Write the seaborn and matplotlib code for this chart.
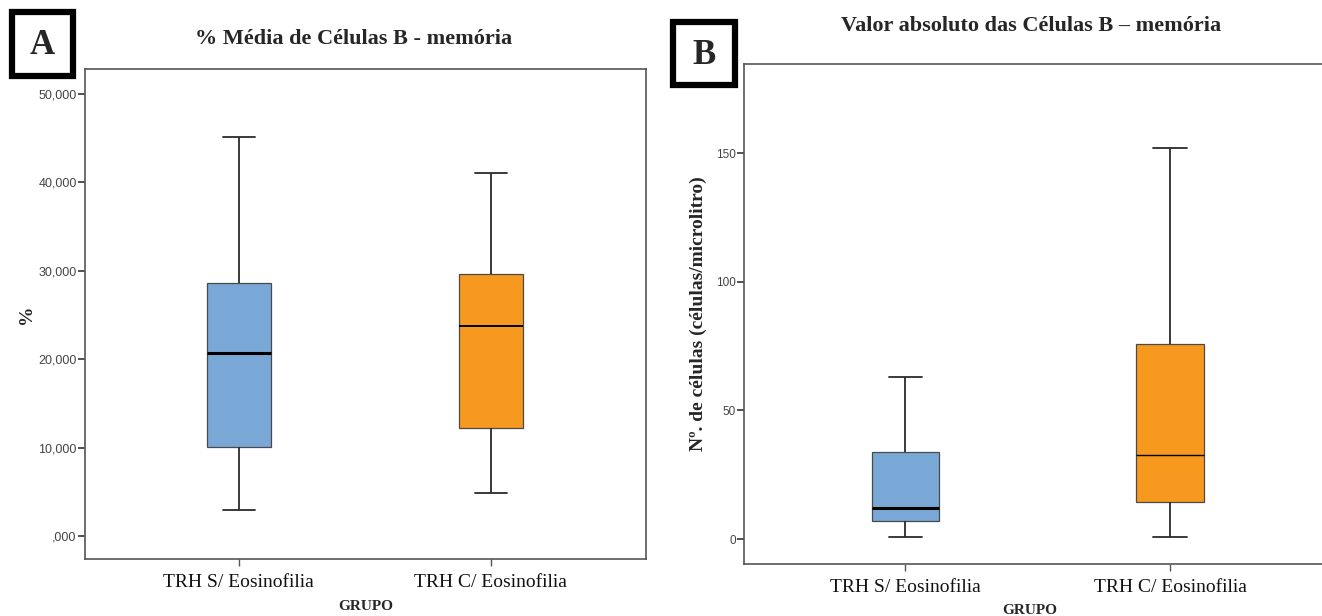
import pandas as pd
import seaborn as sns
import matplotlib.pyplot as plt
from matplotlib.patches import Rectangle

# groups and colours
groups = ["TRH S/ Eosinofilia", "TRH C/ Eosinofilia"]
colors = ["#79A8D6", "#F7991E"]

# five-number summaries: min, Q1, median, Q3, max
pct_s_eos = [3.0, 10.1, 20.7, 28.6, 45.1]
pct_c_eos = [4.9, 12.2, 23.8, 29.6, 41.0]
abs_s_eos = [0.8, 7.0, 12.0, 33.8, 63.0]
abs_c_eos = [0.8, 14.4, 32.6, 75.8, 152.0]

pct_ticks = [0, 10, 20, 30, 40, 50]
pct_tick_labels = [",000", "10,000", "20,000", "30,000", "40,000", "50,000"]
abs_ticks = [0, 50, 100, 150]
abs_tick_labels = ["0", "50", "100", "150"]

sns.set_theme(style="white")
serif = ["Liberation Serif", "DejaVu Serif"]
sans = ["Liberation Sans", "DejaVu Sans"]
plt.rcParams["font.family"] = sans


def make_frame(a, b):
    return pd.DataFrame({
        "grupo": [groups[0]] * len(a) + [groups[1]] * len(b),
        "valor": a + b,
    })


def draw_panel(ax, df, median_widths):
    for g, c, mw in zip(groups, colors, median_widths):
        sns.boxplot(
            data=df[df["grupo"] == g], x="grupo", y="valor", order=groups,
            color=c, whis=(0, 100), width=0.254, saturation=1, ax=ax,
            boxprops=dict(edgecolor="#4a4a4a", linewidth=0.9),
            whiskerprops=dict(color="#2b2b2b", linewidth=1.3),
            capprops=dict(color="#2b2b2b", linewidth=1.3),
            medianprops=dict(color="black", linewidth=mw),
        )
    ax.set_xticks([0, 1], labels=groups)
    for lab in ax.get_xticklabels():
        lab.set_fontfamily(serif)
        lab.set_fontsize(14)
        lab.set_color("#111111")
    for lab in ax.get_yticklabels():
        lab.set_fontfamily(sans)
        lab.set_color("#444444")
    ax.tick_params(axis="x", length=5, width=1, color="#555555", pad=6)
    ax.tick_params(axis="y", length=5, width=1.2, color="#333333", pad=1)
    ax.tick_params(left=True, bottom=True)
    for s in ax.spines.values():
        s.set_color("#555555")
        s.set_linewidth(1.2)
    ax.set_xlabel("GRUPO", fontfamily=serif, fontweight="bold", fontsize=11)


fig = plt.figure(figsize=(13.22, 6.16), dpi=100)
W, H = 1322, 616

# panel A
axA = fig.add_axes([85 / W, 1 - 559 / H, 561 / W, 490 / H])
draw_panel(axA, make_frame(pct_s_eos, pct_c_eos), [2.2, 1.4])
axA.set_xlim(-0.61, 1.615)
axA.set_ylim(-2.55, 52.8)
axA.set_yticks(pct_ticks, labels=pct_tick_labels)
axA.tick_params(axis="y", labelsize=9)
axA.set_ylabel("%", fontfamily=serif, fontweight="bold", fontsize=14)
axA.yaxis.set_label_coords(-0.09, 0.5)
axA.xaxis.set_label_coords(0.5, -0.084)

# panel B
axB = fig.add_axes([744 / W, 1 - 564 / H, 578 / W, 500 / H])
draw_panel(axB, make_frame(abs_s_eos, abs_c_eos), [2.2, 1.0])
axB.set_xlim(-0.61, 1.574)
axB.set_ylim(-9.7, 184.6)
axB.set_yticks(abs_ticks, labels=abs_tick_labels)
axB.tick_params(axis="y", labelsize=8.5)
axB.spines["right"].set_visible(False)
axB.set_ylabel("Nº. de células (células/microlitro)", fontfamily=serif,
               fontweight="bold", fontsize=14)
axB.yaxis.set_label_coords(-0.064, 0.5)
axB.xaxis.set_label_coords(0.495, -0.08)

# titles
fig.text(354 / W, 1 - 39 / H, "% Média de Células B - memória", ha="center",
         va="center", fontfamily=serif, fontweight="bold", fontsize=16)
fig.text(1031 / W, 1 - 26 / H, "Valor absoluto das Células B – memória",
         ha="center", va="center", fontfamily=serif, fontweight="bold",
         fontsize=16)

# panel letters in thick boxes
for (x0, y0, x1, y1), letter in [((12, 12, 73, 76), "A"), ((673, 22, 735, 85), "B")]:
    fig.add_artist(Rectangle((x0 / W, 1 - y1 / H), (x1 - x0) / W, (y1 - y0) / H,
                             transform=fig.transFigure, fill=False,
                             edgecolor="black", linewidth=4.5))
    fig.text((x0 + x1) / 2 / W, 1 - ((y0 + y1) / 2 + 2) / H, letter,
             ha="center", va="center", fontfamily=serif, fontweight="bold",
             fontsize=25)

fig.savefig("out.png", dpi=100)
